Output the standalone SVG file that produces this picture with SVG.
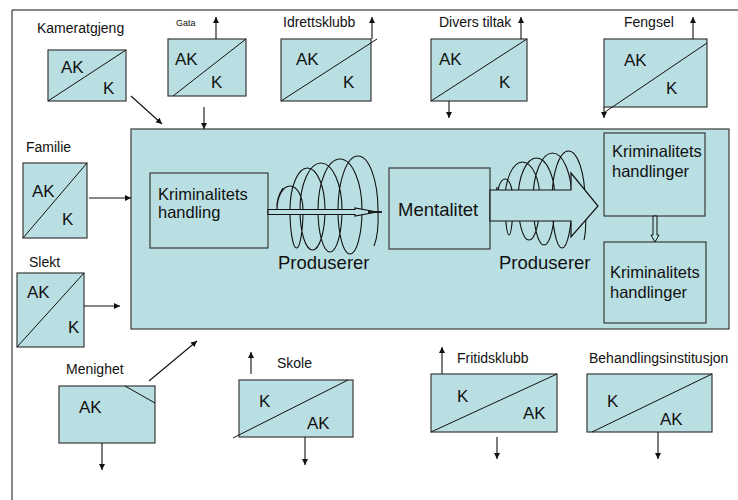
<svg xmlns="http://www.w3.org/2000/svg" width="738" height="500" viewBox="0 0 738 500">
<style>
.bx{fill:#BADFE2;stroke:#3a3a3a;stroke-width:1.2}
.ln{fill:none;stroke:#111;stroke-width:1}
.cn{fill:none;stroke:#111;stroke-width:1.1}
.ak{font-family:"Liberation Sans",Arial,sans-serif;font-size:17px;fill:#111}
.lb{font-family:"Liberation Sans",Arial,sans-serif;font-size:14px;fill:#111}
.md{font-family:"Liberation Sans",Arial,sans-serif;font-size:16.5px;fill:#111}
.lg{font-family:"Liberation Sans",Arial,sans-serif;font-size:18.5px;fill:#111}
.sp{fill:none;stroke:#111;stroke-width:1.1}
.ha{fill:#BADFE2;stroke:#111;stroke-width:1.2}
</style>
<defs>
<marker id="ah" markerUnits="userSpaceOnUse" markerWidth="8" markerHeight="8" refX="6" refY="3" orient="auto">
<path d="M0,0 L6,3 L0,6 Z" fill="#111"/>
</marker>
</defs>
<rect width="738" height="500" fill="#fff"/>
<g id="frame">
<path class="ln" d="M12,10 H738 M12,10 V500"/>
</g>
<g id="main">
<rect class="bx" x="131" y="129" width="598" height="200"/>
</g>
<g id="kameratgjeng">
<text class="lb" x="37" y="33">Kameratgjeng</text>
<rect class="bx" x="48" y="50" width="78" height="51"/>
<line class="ln" x1="48" y1="101" x2="126" y2="50"/>
<text class="ak" x="61" y="73">AK</text>
<text class="ak" x="103" y="94">K</text>
</g>
<g id="gata">
<text class="lb" style="font-size:9px" x="176" y="26">Gata</text>
<rect class="bx" x="168" y="39" width="78" height="57"/>
<line class="ln" x1="173" y1="96" x2="246" y2="39"/>
<text class="ak" x="175" y="65">AK</text>
<text class="ak" x="211" y="88">K</text>
</g>
<g id="idrettsklubb">
<text class="lb" x="283" y="27">Idrettsklubb</text>
<rect class="bx" x="281" y="39" width="90" height="62"/>
<line class="ln" x1="281" y1="101" x2="377" y2="39"/>
<text class="ak" x="296" y="65">AK</text>
<text class="ak" x="343" y="88">K</text>
</g>
<g id="divers-tiltak">
<text class="lb" x="439" y="27">Divers tiltak</text>
<rect class="bx" x="431" y="39" width="96" height="62"/>
<line class="ln" x1="431" y1="101" x2="527" y2="39"/>
<text class="ak" x="439" y="65">AK</text>
<text class="ak" x="499" y="88">K</text>
</g>
<g id="fengsel">
<text class="lb" x="624" y="27">Fengsel</text>
<rect class="bx" x="604" y="39" width="103" height="68"/>
<line class="ln" x1="707" y1="43" x2="605" y2="112"/>
<text class="ak" x="624" y="66">AK</text>
<text class="ak" x="666" y="94">K</text>
</g>
<g id="familie">
<text class="lb" x="26" y="152">Familie</text>
<rect class="bx" x="23" y="163" width="64" height="75"/>
<line class="ln" x1="23" y1="238" x2="87" y2="163"/>
<text class="ak" x="32" y="197">AK</text>
<text class="ak" x="62" y="225">K</text>
</g>
<g id="slekt">
<text class="lb" x="29" y="267">Slekt</text>
<rect class="bx" x="17" y="273" width="67" height="74"/>
<line class="ln" x1="17" y1="347" x2="84" y2="273"/>
<text class="ak" x="27" y="298">AK</text>
<text class="ak" x="68" y="333">K</text>
</g>
<g id="menighet">
<text class="lb" x="66" y="374">Menighet</text>
<rect class="bx" x="59" y="386" width="96" height="57"/>
<line class="ln" x1="125" y1="386" x2="155" y2="403"/>
<text class="ak" x="79" y="413">AK</text>
</g>
<g id="skole">
<text class="lb" x="277" y="368">Skole</text>
<rect class="bx" x="239" y="380" width="114" height="57"/>
<line class="ln" x1="233" y1="438" x2="348" y2="380"/>
<text class="ak" x="259" y="407">K</text>
<text class="ak" x="307" y="429">AK</text>
</g>
<g id="fritidsklubb">
<text class="lb" x="457" y="363">Fritidsklubb</text>
<rect class="bx" x="431" y="374" width="126" height="58"/>
<line class="ln" x1="431" y1="432" x2="557" y2="374"/>
<text class="ak" x="457" y="402">K</text>
<text class="ak" x="523" y="419">AK</text>
</g>
<g id="behandlingsinstitusjon">
<text class="lb" x="589" y="363">Behandlingsinstitusjon</text>
<rect class="bx" x="587" y="374" width="125" height="58"/>
<line class="ln" x1="592" y1="432" x2="712" y2="374"/>
<text class="ak" x="607" y="407">K</text>
<text class="ak" x="660" y="425">AK</text>
</g>
<g id="kriminalitets-handling">
<rect class="bx" x="150" y="173" width="118" height="75"/>
<text class="md" x="158" y="200">Kriminalitets</text>
<text class="md" x="158" y="218">handling</text>
</g>
<g id="spiral-1">
<path class="sp" d="M283,188 Q276,198 277,210 A13,24 0 0 1 303,210 A6.5,38 0 0 1 290,210 A17.5,42 0 0 1 325,210 A12.5,40 0 0 1 300,210 A21,47 0 0 1 342,210 A12,42 0 0 1 318,210 A22,51 0 0 1 362,210 A12,44 0 0 1 338,210 A20,54 0 0 1 378,210 Q379,234 374,246"/>
<path class="ha" d="M268,209.5 H355 V208 L377,212 L355,216 V214.5 H268 Z"/>
<line x1="368" y1="212" x2="382" y2="212" stroke="#111" stroke-width="1.8"/>
</g>
<g id="produserer-1">
<text class="lg" x="278" y="269">Produserer</text>
</g>
<g id="mentalitet">
<rect class="bx" x="389" y="168" width="101" height="81"/>
<text class="lg" x="398" y="216">Mentalitet</text>
</g>
<g id="spiral-2">
<path class="sp" d="M497,187 Q496,193 497,200 A8,21 0 0 1 513,200 A4,35 0 0 1 505,200 A17.5,38 0 0 1 540,200 A11,40 0 0 1 518,200 A18.5,42 0 0 1 555,200 A11,45 0 0 1 533,200 A19.5,47 0 0 1 572,200 A10,48 0 0 1 552,200 A16.5,49 0 0 1 585,200 Q587,228 584,240"/>
<path class="ha" d="M490,190 H571 V173 L598,206 L571,237 V221 H490 Z"/>
</g>
<g id="produserer-2">
<text class="lg" x="499" y="269">Produserer</text>
</g>
<g id="kriminalitets-handlinger-1">
<rect class="bx" x="604" y="133" width="101" height="83"/>
<text class="md" x="612" y="157">Kriminalitets</text>
<text class="md" x="612" y="177">handlinger</text>
</g>
<g id="kriminalitets-handlinger-2">
<rect class="bx" x="604" y="242" width="102" height="81"/>
<text class="md" x="610" y="278">Kriminalitets</text>
<text class="md" x="610" y="298">handlinger</text>
</g>
<g id="connectors">
<path class="ha" style="stroke-width:1" d="M653,216 V235 H651 L655,242 L659,235 H657 V216 Z"/>
<line class="cn" x1="131" y1="96" x2="162" y2="124" marker-end="url(#ah)"/>
<line class="cn" x1="216" y1="39" x2="216" y2="17" marker-end="url(#ah)"/>
<line class="cn" x1="204" y1="107" x2="204" y2="129" marker-end="url(#ah)"/>
<line class="cn" x1="372" y1="39" x2="372" y2="17" marker-end="url(#ah)"/>
<line class="cn" x1="521" y1="39" x2="521" y2="17" marker-end="url(#ah)"/>
<line class="cn" x1="449" y1="101" x2="449" y2="118" marker-end="url(#ah)"/>
<line class="cn" x1="693" y1="39" x2="693" y2="17" marker-end="url(#ah)"/>
<line class="cn" x1="604" y1="107" x2="604" y2="118" marker-end="url(#ah)"/>
<line class="cn" x1="89" y1="198" x2="131" y2="198" marker-end="url(#ah)"/>
<line class="cn" x1="84" y1="306" x2="120" y2="306" marker-end="url(#ah)"/>
<line class="cn" x1="149" y1="381" x2="197" y2="341" marker-end="url(#ah)"/>
<line class="cn" x1="102" y1="443" x2="102" y2="470" marker-end="url(#ah)"/>
<line class="cn" x1="251" y1="374" x2="251" y2="352" marker-end="url(#ah)"/>
<line class="cn" x1="305" y1="437" x2="305" y2="465" marker-end="url(#ah)"/>
<line class="cn" x1="442" y1="374" x2="442" y2="347" marker-end="url(#ah)"/>
<line class="cn" x1="497" y1="437" x2="497" y2="459" marker-end="url(#ah)"/>
<line class="cn" x1="658" y1="432" x2="658" y2="459" marker-end="url(#ah)"/>
</g>
</svg>
